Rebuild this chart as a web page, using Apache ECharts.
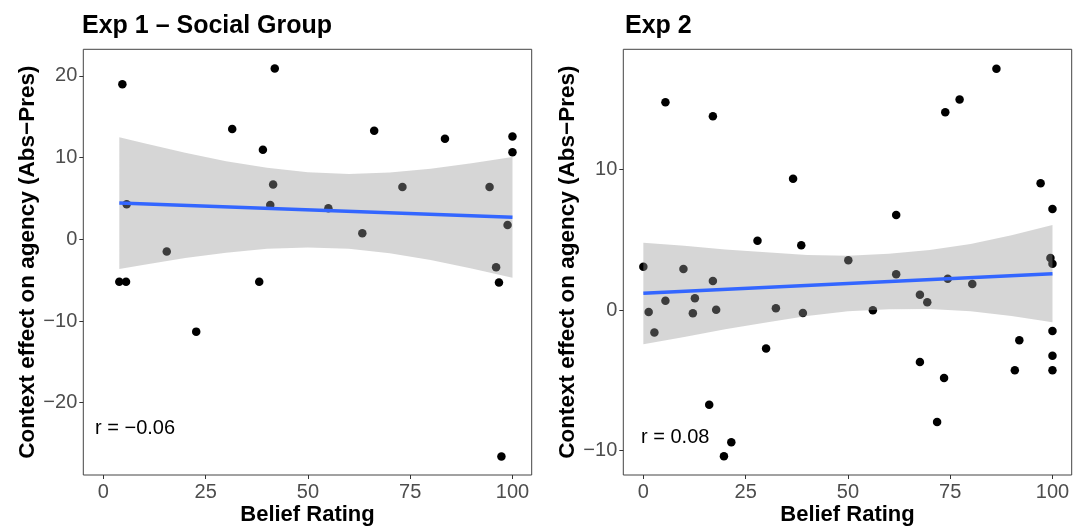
<!DOCTYPE html>
<html><head><meta charset="utf-8">
<script src="https://cdn.jsdelivr.net/npm/echarts@6/dist/echarts.min.js"></script>
<style>html,body{margin:0;padding:0;background:#fff}#c{width:1074px;height:527px}</style>
</head><body><div id="c"></div>
<script>
// ---- Exp 1 – Social Group ----
const exp1X = [4.65, 41.9, 31.5, 39.0, 41.5, 40.8, 5.7, 15.5, 66.2, 83.5, 100, 100, 73.1, 94.4, 55.0, 63.3, 98.8, 3.9, 5.55, 38.1, 22.7, 96.0, 96.7, 97.3];
const exp1Y = [18.97, 20.9, 13.5, 10.97, 6.7, 4.2, 4.3, -1.5, 13.3, 12.3, 12.6, 10.65, 6.4, 6.4, 3.8, 0.73, 1.75, -5.19, -5.19, -5.19, -11.3, -3.43, -5.3, -26.6];
const exp1FitX = [3.9, 100];
const exp1FitY = [4.44, 2.69];
const exp1BandX = [3.9, 10, 20, 30, 40, 50, 60, 70, 80, 90, 100];
const exp1BandUp = [12.50, 11.76, 10.60, 9.57, 8.75, 8.20, 8.01, 8.19, 8.65, 9.30, 10.09];
const exp1BandLo = [-3.62, -3.10, -2.30, -1.63, -1.17, -1.00, -1.17, -1.71, -2.53, -3.56, -4.71];
const exp1YTicks = [-20, -10, 0, 10, 20];

// ---- Exp 2 ----
const exp2X = [5.4, 17.0, 36.6, 27.9, 38.6, 86.3, 77.3, 73.8, 97.1, 100, 61.8, 50.1, 99.5, 100, 0, 9.8, 17.0, 5.4, 12.6, 1.3, 12.1, 17.8, 32.4, 39.0, 2.7, 30.0, 16.1, 21.5, 19.7, 61.8, 74.4, 80.4, 67.6, 69.4, 56.1, 100, 91.9, 100, 100, 90.8, 67.6, 73.5, 71.8];
const exp2Y = [14.8, 13.8, 9.36, 4.94, 4.61, 17.2, 15.0, 14.1, 9.03, 7.2, 6.77, 3.55, 3.7, 3.3, 3.09, 2.92, 2.07, 0.66, 0.83, -0.14, -0.24, 0.02, 0.12, -0.21, -1.61, -2.75, -6.75, -9.43, -10.43, 2.54, 2.23, 1.85, 1.09, 0.55, -0.02, -1.5, -2.16, -3.26, -4.3, -4.3, -3.7, -4.85, -7.98];
const exp2FitX = [0, 100];
const exp2FitY = [1.19, 2.59];
const exp2BandX = [0, 10, 20, 30, 40, 50, 60, 70, 80, 90, 100];
const exp2BandUp = [4.80, 4.58, 4.32, 4.11, 3.92, 3.87, 4.01, 4.27, 4.71, 5.33, 6.06];
const exp2BandLo = [-2.44, -1.92, -1.38, -0.89, -0.42, -0.09, 0.05, 0.07, -0.09, -0.43, -0.88];
const exp2YTicks = [-10, 0, 10];

const xTicks = [0, 25, 50, 75, 100];
const titles = ['Exp 1 \u2013 Social Group', 'Exp 2'];
const corrLabels = ['r = \u22120.06', 'r = 0.08'];
const yName = 'Context effect on agency (Abs\u2212Pres)';
const xName = 'Belief Rating';

const FONT = '"Liberation Sans", Arial, Helvetica, sans-serif';
const fmt = v => String(v).replace('-', '\u2212');

function zip(a, b) { return a.map((v, i) => [v, b[i]]); }

function bandSeries(idx, bx, up, lo) {
  return {
    type: 'custom', xAxisIndex: idx, yAxisIndex: idx, z: 3, silent: true,
    data: [0],
    renderItem: function (params, api) {
      const pts = [];
      for (let i = 0; i < bx.length; i++) pts.push(api.coord([bx[i], up[i]]));
      for (let i = bx.length - 1; i >= 0; i--) pts.push(api.coord([bx[i], lo[i]]));
      return { type: 'polygon', shape: { points: pts }, style: { fill: 'rgba(153,153,153,0.4)' } };
    }
  };
}

function xAxisCfg(idx) {
  return {
    type: 'value', gridIndex: idx, min: -4.9, max: 104.7, position: 'bottom',
    name: xName, nameLocation: 'middle', nameGap: 29, nameMoveOverlap: false,
    nameTextStyle: { fontFamily: FONT, fontSize: 22, fontWeight: 'bold', color: '#000' },
    axisLine: { show: false, onZero: false }, splitLine: { show: false },
    axisTick: { show: true, length: 4, lineStyle: { color: '#333' }, customValues: xTicks },
    axisLabel: { margin: 7, fontFamily: FONT, fontSize: 20, color: '#4d4d4d', customValues: xTicks, formatter: fmt }
  };
}
function yAxisCfg(idx, min, max, ticks) {
  return {
    type: 'value', gridIndex: idx, min: min, max: max, position: 'left',
    name: yName, nameLocation: 'middle', nameGap: 44,
    nameTextStyle: { fontFamily: FONT, fontSize: 22.5, fontWeight: 'bold', color: '#000' },
    axisLine: { show: false, onZero: false }, splitLine: { show: false },
    axisTick: { show: true, length: 4, lineStyle: { color: '#333' }, customValues: ticks },
    axisLabel: { margin: 6, fontFamily: FONT, fontSize: 20, color: '#4d4d4d', customValues: ticks, formatter: fmt }
  };
}

const chart = echarts.init(document.getElementById('c'), null, { renderer: 'canvas' });
chart.setOption({
  animation: false,
  backgroundColor: '#fff',
  title: [
    { text: titles[0], left: 82, top: 14, padding: 0, textStyle: { fontFamily: FONT, fontSize: 25, fontWeight: 'bold', color: '#000' } },
    { text: titles[1], left: 625, top: 14, padding: 0, textStyle: { fontFamily: FONT, fontSize: 25, fontWeight: 'bold', color: '#000' } }
  ],
  grid: [
    { left: 83.3, top: 49.3, right: 542.3, bottom: 52, show: true, borderColor: '#444', borderWidth: 1, backgroundColor: 'transparent', outerBoundsMode: 'none', containLabel: false },
    { left: 623.3, top: 49.3, right: 2.3, bottom: 52, show: true, borderColor: '#444', borderWidth: 1, backgroundColor: 'transparent', outerBoundsMode: 'none', containLabel: false }
  ],
  xAxis: [xAxisCfg(0), xAxisCfg(1)],
  yAxis: [yAxisCfg(0, -28.85, 23.26, exp1YTicks), yAxisCfg(1, -11.76, 18.58, exp2YTicks)],
  graphic: [
    { type: 'text', left: 95, top: 418, style: { text: corrLabels[0], font: '20px ' + FONT, fill: '#000' } },
    { type: 'text', left: 641, top: 427, style: { text: corrLabels[1], font: '20px ' + FONT, fill: '#000' } }
  ],
  series: [
    { type: 'scatter', xAxisIndex: 0, yAxisIndex: 0, z: 2, data: zip(exp1X, exp1Y), symbolSize: 8.5, itemStyle: { color: '#000', opacity: 1 } },
    bandSeries(0, exp1BandX, exp1BandUp, exp1BandLo),
    { type: 'line', xAxisIndex: 0, yAxisIndex: 0, z: 4, data: zip(exp1FitX, exp1FitY), showSymbol: false, lineStyle: { color: '#3366FF', width: 3.5 } },
    { type: 'scatter', xAxisIndex: 1, yAxisIndex: 1, z: 2, data: zip(exp2X, exp2Y), symbolSize: 8.5, itemStyle: { color: '#000', opacity: 1 } },
    bandSeries(1, exp2BandX, exp2BandUp, exp2BandLo),
    { type: 'line', xAxisIndex: 1, yAxisIndex: 1, z: 4, data: zip(exp2FitX, exp2FitY), showSymbol: false, lineStyle: { color: '#3366FF', width: 3.5 } }
  ]
});
</script>
</body></html>
